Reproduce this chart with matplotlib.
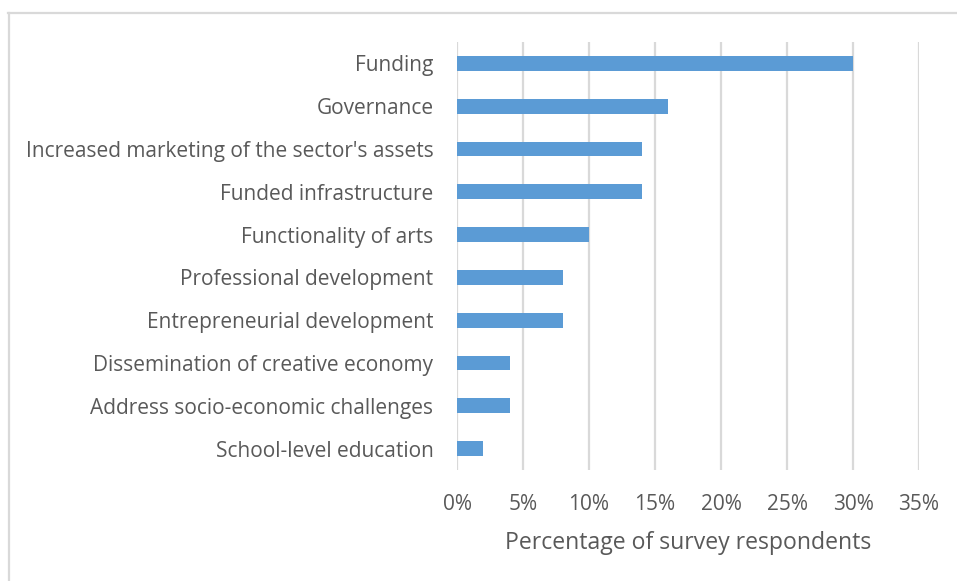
import matplotlib
matplotlib.use("Agg")
import matplotlib.pyplot as plt
from matplotlib.lines import Line2D
from matplotlib.ticker import FuncFormatter

categories = [
    "Funding",
    "Governance",
    "Increased marketing of the sector's assets",
    "Funded infrastructure",
    "Functionality of arts",
    "Professional development",
    "Entrepreneurial development",
    "Dissemination of creative economy",
    "Address socio-economic challenges",
    "School-level education",
]
values = [30, 16, 14, 14, 10, 8, 8, 4, 4, 2]
x_ticks = [0, 5, 10, 15, 20, 25, 30, 35]
x_label = "Percentage of survey respondents"

TEXT = "#595959"
GRID = "#D9D9D9"
BAR = "#5B9BD5"

plt.rcParams["font.family"] = ["Open Sans", "DejaVu Sans"]

W, H = 957, 581
fig = plt.figure(figsize=(W / 100, H / 100), dpi=100)
ax = fig.add_axes([457 / W, 1 - 470 / H, (919 - 457) / W, (470 - 42) / H])

positions = list(range(len(categories)))[::-1]
ax.barh(positions, values, height=0.35, color=BAR, zorder=3)

ax.set_xlim(0, 35)
ax.set_ylim(-0.5, len(categories) - 0.5)
ax.set_xticks(x_ticks)
ax.xaxis.set_major_formatter(FuncFormatter(lambda v, _: f"{v:.0f}%"))
ax.set_yticks(positions)
ax.set_yticklabels(categories)

ax.grid(axis="x", color=GRID, linewidth=1.6, zorder=0)
for s in ax.spines.values():
    s.set_visible(False)
ax.tick_params(axis="x", length=0, labelsize=15, labelcolor=TEXT, pad=17)
ax.tick_params(axis="y", length=0, labelsize=15, labelcolor=TEXT, pad=17)
ax.set_xlabel(x_label, fontsize=16.6, color=TEXT, labelpad=12)

# chart frame
fig.add_artist(Line2D([9 / W, 9 / W], [0, 1 - 13 / H], color=GRID, lw=1.6,
                      transform=fig.transFigure))
fig.add_artist(Line2D([8 / W, 1], [1 - 13 / H, 1 - 13 / H], color=GRID, lw=1.6,
                      transform=fig.transFigure))

fig.savefig("out.png", dpi=100, facecolor="white")
